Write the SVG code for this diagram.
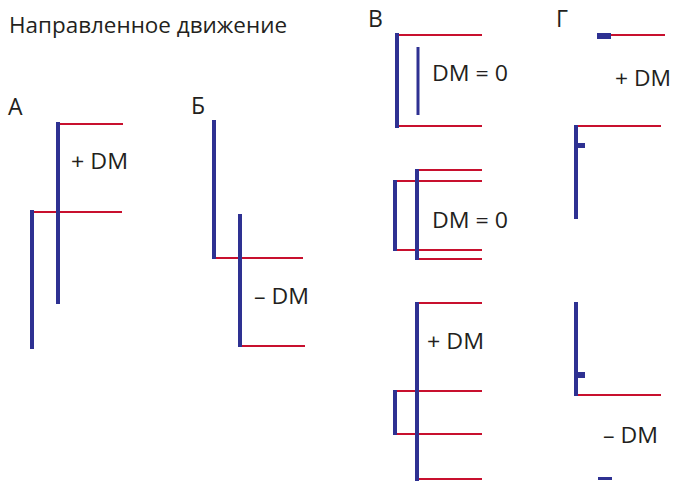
<svg xmlns="http://www.w3.org/2000/svg" width="674" height="481" viewBox="0 0 674 481">
<style>
.b{stroke:#2e3192;stroke-width:4;fill:none}
.bt{stroke:#2e3192;stroke-width:3;fill:none}
.r{stroke:#c8102e;stroke-width:2;fill:none}
.bf{fill:#2e3192}
text{font-family:"Open Sans","Liberation Sans",Arial,sans-serif;fill:#231f20;font-size:22px}
.l{font-size:23px}
</style>
<rect width="674" height="481" fill="#fff"/>
<text x="9" y="33" font-size="20" textLength="278" lengthAdjust="spacingAndGlyphs">Направленное движение</text>
<g id="panelA">
<text class="l" x="8" y="115">А</text>
<line class="r" x1="58" y1="124" x2="123" y2="124"/>
<line class="r" x1="32" y1="212" x2="122" y2="212"/>
<line class="b" x1="58" y1="122" x2="58" y2="304"/>
<line class="b" x1="32" y1="210" x2="32" y2="349"/>
<text x="71" y="169" textLength="57" lengthAdjust="spacingAndGlyphs">+ DM</text>
</g>
<g id="panelB">
<text class="l" x="191" y="114">Б</text>
<line class="r" x1="214" y1="258" x2="303" y2="258"/>
<line class="r" x1="240" y1="346" x2="305" y2="346"/>
<line class="b" x1="214" y1="120" x2="214" y2="259"/>
<line class="b" x1="240" y1="214" x2="240" y2="347"/>
<text x="254" y="304" textLength="55" lengthAdjust="spacingAndGlyphs">– DM</text>
</g>
<g id="panelV1">
<text class="l" x="368" y="27">В</text>
<line class="r" x1="397" y1="35" x2="482" y2="35"/>
<line class="r" x1="397" y1="126" x2="482" y2="126"/>
<line class="b" x1="397" y1="33" x2="397" y2="128"/>
<line class="bt" x1="418" y1="47" x2="418" y2="115"/>
<text x="432" y="81" textLength="76" lengthAdjust="spacingAndGlyphs">DM = 0</text>
</g>
<g id="panelV2">
<line class="r" x1="417" y1="170" x2="482" y2="170"/>
<line class="r" x1="395" y1="181" x2="482" y2="181"/>
<line class="r" x1="395" y1="250" x2="482" y2="250"/>
<line class="r" x1="417" y1="259" x2="482" y2="259"/>
<line class="b" x1="395" y1="180" x2="395" y2="251"/>
<line class="b" x1="417" y1="169" x2="417" y2="260"/>
<text x="432" y="228" textLength="76" lengthAdjust="spacingAndGlyphs">DM = 0</text>
</g>
<g id="panelV3">
<line class="r" x1="417" y1="303" x2="482" y2="303"/>
<line class="r" x1="395" y1="391" x2="482" y2="391"/>
<line class="r" x1="395" y1="434" x2="482" y2="434"/>
<line class="r" x1="417" y1="479" x2="482" y2="479"/>
<line class="b" x1="395" y1="390" x2="395" y2="435"/>
<line class="b" x1="417" y1="302" x2="417" y2="481"/>
<text x="427" y="349" textLength="57" lengthAdjust="spacingAndGlyphs">+ DM</text>
</g>
<g id="panelG1">
<text class="l" x="556" y="27">Г</text>
<rect class="bf" x="597" y="33" width="14" height="6"/>
<line class="r" x1="611" y1="35" x2="665" y2="35"/>
<text x="615" y="86" textLength="56" lengthAdjust="spacingAndGlyphs">+ DM</text>
</g>
<g id="panelG2">
<line class="r" x1="576" y1="126" x2="661" y2="126"/>
<line class="b" x1="576" y1="125" x2="576" y2="219"/>
<rect class="bf" x="576" y="143" width="9" height="5"/>
</g>
<g id="panelG3">
<line class="r" x1="576" y1="395" x2="661" y2="395"/>
<line class="b" x1="576" y1="302" x2="576" y2="396"/>
<rect class="bf" x="576" y="372" width="9" height="6"/>
<text x="603" y="443" textLength="55" lengthAdjust="spacingAndGlyphs">– DM</text>
<rect class="bf" x="598" y="477" width="14" height="3"/>
</g>
</svg>
